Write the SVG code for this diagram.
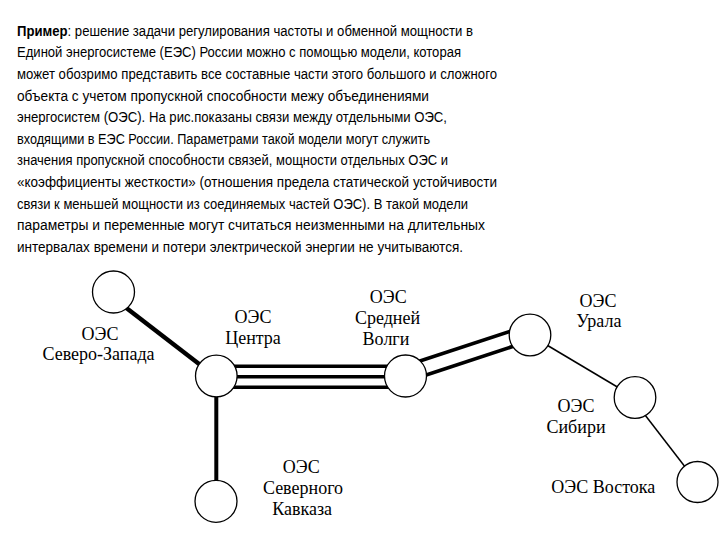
<svg xmlns="http://www.w3.org/2000/svg" width="720" height="540" viewBox="0 0 720 540">
<style>
.p{font-family:"Liberation Sans",Arial,sans-serif;font-size:14px;fill:#000}
.b{font-weight:bold}
.l{font-family:"Liberation Serif","Times New Roman",serif;font-size:18px;fill:#000;text-anchor:middle}
.n{fill:#fff;stroke:#000;stroke-width:1.3}
.thick{stroke:#000;stroke-width:3.4;fill:none}
.thin{stroke:#000;stroke-width:1.5;fill:none}
</style>
<rect width="720" height="540" fill="#fff"/>
<g id="paragraph">
<text class="p" x="17" y="35.5" textLength="456" lengthAdjust="spacingAndGlyphs"><tspan class="b">Пример</tspan>: решение задачи регулирования частоты и обменной мощности в</text>
<text class="p" x="17" y="57.2" textLength="444" lengthAdjust="spacingAndGlyphs">Единой энергосистеме (ЕЭС) России можно с помощью модели, которая</text>
<text class="p" x="17" y="78.8" textLength="480" lengthAdjust="spacingAndGlyphs">может обозримо представить все составные части этого большого и сложного</text>
<text class="p" x="17" y="100.5" textLength="412" lengthAdjust="spacingAndGlyphs">объекта с учетом пропускной способности межу объединениями</text>
<text class="p" x="17" y="122.1" textLength="430" lengthAdjust="spacingAndGlyphs">энергосистем (ОЭС). На рис.показаны связи между отдельными ОЭС,</text>
<text class="p" x="17" y="143.8" textLength="413" lengthAdjust="spacingAndGlyphs">входящими в ЕЭС России. Параметрами такой модели могут служить</text>
<text class="p" x="17" y="165.4" textLength="431" lengthAdjust="spacingAndGlyphs">значения пропускной способности связей, мощности отдельных ОЭС и</text>
<text class="p" x="17" y="187.1" textLength="480" lengthAdjust="spacingAndGlyphs">«коэффициенты жесткости» (отношения предела статической устойчивости</text>
<text class="p" x="17" y="208.7" textLength="451" lengthAdjust="spacingAndGlyphs">связи к меньшей мощности из соединяемых частей ОЭС). В такой модели</text>
<text class="p" x="17" y="230.4" textLength="468" lengthAdjust="spacingAndGlyphs">параметры и переменные могут считаться неизменными на длительных</text>
<text class="p" x="17" y="252" textLength="446" lengthAdjust="spacingAndGlyphs">интервалах времени и потери электрической энергии не учитываются.</text>
</g>
<g id="connectors">
<line class="thick" x1="116" y1="300" x2="214" y2="375.5" style="stroke-width:4.4"/>
<line class="thick" x1="216" y1="366.3" x2="405" y2="366.3"/>
<line class="thick" x1="216" y1="376.8" x2="405" y2="376.8"/>
<line class="thick" x1="216" y1="387.2" x2="405" y2="387.2"/>
<line class="thick" x1="216.3" y1="376" x2="216.3" y2="501" style="stroke-width:4"/>
<line class="thick" x1="402.4" y1="366.7" x2="527" y2="325.7" style="stroke-width:3.6"/>
<line class="thick" x1="407.2" y1="381.2" x2="531.7" y2="340.2" style="stroke-width:3.6"/>
<line class="thin" x1="530" y1="335" x2="635" y2="397.5"/>
<line class="thin" x1="635" y1="402" x2="697.5" y2="483"/>
</g>
<g id="node-nw">
<circle class="n" cx="113.5" cy="292" r="21"/>
<text class="l" x="100" y="340">ОЭС</text>
<text class="l" x="98.5" y="360">Северо-Запада</text>
</g>
<g id="node-center">
<circle class="n" cx="216.3" cy="376" r="20.8"/>
<text class="l" x="253" y="323.3">ОЭС</text>
<text class="l" x="253" y="344">Центра</text>
</g>
<g id="node-volga">
<circle class="n" cx="405.5" cy="376" r="21"/>
<text class="l" x="388.3" y="302.7">ОЭС</text>
<text class="l" x="387.5" y="324.3">Средней</text>
<text class="l" x="386" y="345">Волги</text>
</g>
<g id="node-ural">
<circle class="n" cx="530" cy="335" r="20.8"/>
<text class="l" x="598" y="306.5">ОЭС</text>
<text class="l" x="598.8" y="326.7">Урала</text>
</g>
<g id="node-siberia">
<circle class="n" cx="635" cy="397.5" r="20.8"/>
<text class="l" x="576" y="411.7">ОЭС</text>
<text class="l" x="576" y="432.7">Сибири</text>
</g>
<g id="node-east">
<circle class="n" cx="697.5" cy="482" r="20.5"/>
<text class="l" x="603.3" y="492.7">ОЭС Востока</text>
</g>
<g id="node-caucasus">
<circle class="n" cx="216" cy="501.3" r="21"/>
<text class="l" x="301.3" y="473.3">ОЭС</text>
<text class="l" x="303" y="494">Северного</text>
<text class="l" x="302.2" y="515">Кавказа</text>
</g>
</svg>
